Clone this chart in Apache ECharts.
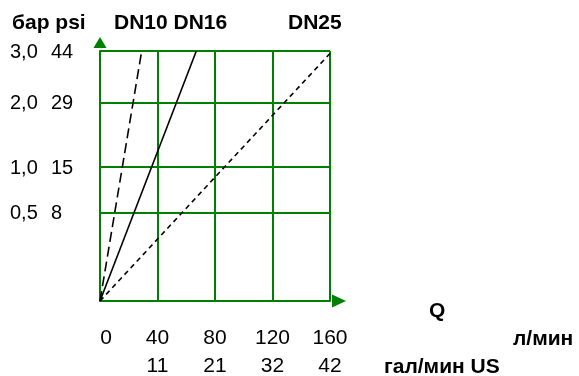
<!DOCTYPE html>
<html>
<head>
<meta charset="utf-8">
<script src="https://cdn.jsdelivr.net/npm/echarts@6/dist/echarts.min.js"></script>
<style>
  html, body { margin: 0; padding: 0; background: #fff; }
  #chart { width: 579px; height: 376px; }
</style>
</head>
<body>
<div id="chart"></div>
<script>
// flow, l/min
const qTicks = [0, 40, 80, 120, 160]
// flow, US gal/min (under the l/min ticks)
const galTicks = ['', '11', '21', '32', '42']
// pressure grid lines: position on the chart height (0..100), bar, psi
const pPos = [35.3, 53.6, 79.3, 100]
const pBar = ['0,5', '1,0', '2,0', '3,0']
const pPsi = ['8', '15', '29', '44']
// curves [Q l/min, position]
const dn10 = [[0, 0], [29, 100]]
const dn16 = [[0, 0], [67, 100]]
const dn25 = [[0, 0], [160, 99]]

const green = '#008000'
const font = 'Liberation Sans, Arial, sans-serif'

const chart = echarts.init(document.getElementById('chart'))

const lineSeries = (name, data, type) => ({
  name: name,
  type: 'line',
  data: data,
  symbol: 'none',
  silent: true,
  lineStyle: {color: '#000', width: 1.6, type: type}
})

chart.setOption({
  backgroundColor: '#fff',
  animation: false,
  // fixed plot box, labels are allowed to reach the page edge
  grid: {left: 100, top: 51, width: 230, height: 250, outerBoundsMode: 'none'},
  graphic: [
    {type: 'text', left: 12, top: 13, style: {text: 'бар psi', font: 'bold 21px ' + font, fill: '#000'}},
    {type: 'text', left: 114, top: 13, style: {text: 'DN10 DN16', font: 'bold 21px ' + font, fill: '#000'}},
    {type: 'text', left: 288, top: 13, style: {text: 'DN25', font: 'bold 21px ' + font, fill: '#000'}},
    {type: 'text', left: 429, top: 301, style: {text: 'Q', font: 'bold 21px ' + font, fill: '#000'}},
    {type: 'text', left: 513, top: 329, style: {text: 'л/мин', font: 'bold 21px ' + font, fill: '#000'}},
    {type: 'text', left: 384, top: 357, style: {text: 'гал/мин US', font: 'bold 21px ' + font, fill: '#000'}}
  ],
  xAxis: {
    type: 'value',
    min: 0,
    max: 160,
    interval: 40,
    axisLine: {
      show: true,
      symbol: ['none', 'triangle'],
      symbolSize: [13, 14],
      symbolOffset: [0, 9],
      lineStyle: {color: green, width: 2}
    },
    axisTick: {show: false},
    splitLine: {show: true, lineStyle: {color: green, width: 2}},
    axisLabel: {
      margin: 23,
      color: '#000',
      fontFamily: font,
      fontSize: 21,
      lineHeight: 28,
      formatter: v => {
        const i = qTicks.indexOf(v)
        if (i === 0) return '{z|0}\n '
        return v + '\n' + galTicks[i]
      },
      rich: {z: {fontSize: 21, fontFamily: font, color: '#000', padding: [0, 0, 0, 12]}}
    }
  },
  yAxis: {
    type: 'value',
    min: 0,
    max: 100,
    axisLine: {
      show: true,
      symbol: ['none', 'triangle'],
      symbolSize: [13, 11],
      symbolOffset: [0, 8.5],
      lineStyle: {color: green, width: 2}
    },
    axisTick: {show: false, customValues: pPos},
    splitLine: {show: true, lineStyle: {color: green, width: 2}},
    axisLabel: {
      customValues: pPos,
      margin: 25,
      formatter: v => {
        const i = pPos.indexOf(v)
        return i < 0 ? '' : '{a|' + pBar[i] + '}{b|' + pPsi[i] + '}'
      },
      rich: {
        a: {width: 41, align: 'left', fontSize: 20, fontFamily: font, color: '#000', padding: [2, 0, 0, 0]},
        b: {width: 24, align: 'left', fontSize: 20, fontFamily: font, color: '#000', padding: [2, 0, 0, 0]}
      }
    }
  },
  series: [
    lineSeries('DN10', dn10, [10, 5]),
    lineSeries('DN16', dn16, 'solid'),
    lineSeries('DN25', dn25, [5, 4])
  ]
})
</script>
</body>
</html>
